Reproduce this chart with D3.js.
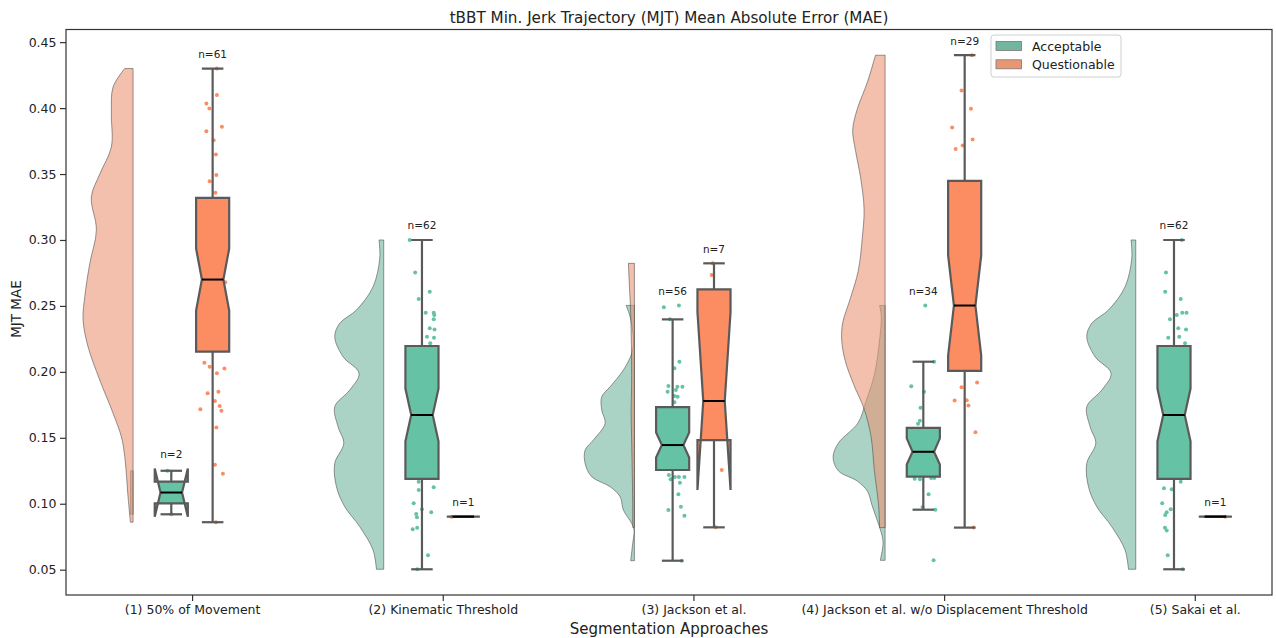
<!DOCTYPE html>
<html><head><meta charset="utf-8">
<script src="https://cdn.jsdelivr.net/npm/d3@7"></script>
<style>
html,body{margin:0;padding:0;background:#fff;}
text{font-family:"DejaVu Sans",sans-serif;fill:#222;}
</style></head>
<body><svg id="chart" width="1276" height="638"></svg>
<script>
// ---------------- DATA ----------------
const categories = ["(1) 50% of Movement", "(2) Kinematic Threshold", "(3) Jackson et al.",
  "(4) Jackson et al. w/o Displacement Threshold", "(5) Sakai et al."];
const groups = ["Acceptable", "Questionable"];
const yTicks = [0.05, 0.10, 0.15, 0.20, 0.25, 0.30, 0.35, 0.40, 0.45];
const yTickLabels = ["0.05", "0.10", "0.15", "0.20", "0.25", "0.30", "0.35", "0.40", "0.45"];

const acceptableN = [2, 62, 56, 34, 62];
const questionableN = [61, 1, 7, 29, 1];

// box stats: [whislo, q1, med, q3, whishi, notchLo, notchHi]
const acceptableBox = [
  [0.092, 0.1003, 0.1085, 0.1167, 0.125, 0.0902, 0.1268],
  [0.0503, 0.1188, 0.1673, 0.2196, 0.300, 0.1473, 0.1873],
  [0.0568, 0.1256, 0.1445, 0.1733, 0.2398, 0.1350, 0.1540],
  [0.0955, 0.1206, 0.1394, 0.1576, 0.2077, 0.1297, 0.1496],
  [0.0503, 0.1188, 0.1673, 0.2196, 0.300, 0.1473, 0.1873]
];
const questionableBox = [
  [0.086, 0.2153, 0.270, 0.332, 0.430, 0.2465, 0.2935],
  [0.0902, 0.0902, 0.0902, 0.0902, 0.0902, 0.0902, 0.0902],
  [0.0821, 0.1483, 0.1779, 0.2625, 0.2823, 0.1104, 0.2454],
  [0.0819, 0.2007, 0.2503, 0.3448, 0.4401, 0.2123, 0.2883],
  [0.0902, 0.0902, 0.0902, 0.0902, 0.0902, 0.0902, 0.0902]
];

// half-violin density profiles: [value, density]
const acceptableDensity = [
  [[0.125,0.25],[0.092,0.25]],
  [[0.300,0.47],[0.286,0.4],[0.2645,1.07],[0.2469,2.73],[0.2368,4.4],[0.2266,4.9],[0.2115,4.07],[0.1989,2.47],[0.1862,3.4],[0.1736,4.9],[0.1584,4.57],[0.1458,4.0],[0.1307,4.9],[0.1129,4.73],[0.0978,3.9],[0.0826,2.4],[0.0649,1.07],[0.0503,0.73]],
  [[0.2504,0.83],[0.2418,0.43],[0.2241,0.1],[0.214,0.27],[0.2014,1.1],[0.1887,2.43],[0.1811,3.27],[0.1711,3.27],[0.161,2.93],[0.1483,4.1],[0.1407,4.93],[0.1306,4.93],[0.1205,4.27],[0.1129,2.43],[0.1053,1.43],[0.0952,1.1],[0.0851,0.27],[0.0801,0.03],[0.07,0.17],[0.0568,0.37]],
  [[0.2503,0.55],[0.2425,0.38],[0.2242,0.55],[0.198,1.07],[0.1772,1.93],[0.1615,2.69],[0.1459,4.68],[0.1354,5.2],[0.125,4.68],[0.1172,2.79],[0.1094,1.76],[0.0989,1.31],[0.0884,0.83],[0.078,0.38],[0.0702,0.2],[0.0571,0.48]],
  [[0.300,0.47],[0.286,0.4],[0.2645,1.07],[0.2469,2.73],[0.2368,4.4],[0.2266,4.9],[0.2115,4.07],[0.1989,2.47],[0.1862,3.4],[0.1736,4.9],[0.1584,4.57],[0.1458,4.0],[0.1307,4.9],[0.1129,4.73],[0.0978,3.9],[0.0826,2.4],[0.0649,1.07],[0.0503,0.73]]
];
const questionableDensity = [
  [[0.430,0.83],[0.416,2.0],[0.396,2.17],[0.3706,2.17],[0.350,3.33],[0.3327,4.17],[0.3075,3.67],[0.2822,4.33],[0.257,4.83],[0.2393,5.0],[0.219,4.5],[0.1938,3.33],[0.1686,2.0],[0.1508,1.17],[0.1357,0.83],[0.1053,0.5],[0.086,0.27]],
  [],
  [[0.2823,0.6],[0.265,0.5],[0.25,0.4],[0.22,0.3],[0.19,0.28],[0.17,0.33],[0.15,0.28],[0.13,0.23],[0.1,0.17],[0.0821,0.17]],
  [[0.4401,0.96],[0.4199,1.76],[0.3991,2.79],[0.3834,3.24],[0.3678,2.96],[0.3468,2.44],[0.3233,2.1],[0.3025,2.27],[0.2764,2.69],[0.2555,3.48],[0.2372,4.24],[0.2242,4.34],[0.2085,3.99],[0.1902,3.13],[0.172,2.1],[0.1511,1.41],[0.125,1.07],[0.0989,0.65],[0.0819,0.55]],
  []
];

// visible raw points: [value, jitter(-1..1)]
const acceptablePoints = [
  [[0.125,-0.3],[0.092,0]],
  [[0.300,-0.98],[0.2754,-0.54],[0.2607,0.62],[0.2552,-0.26],[0.2448,0.3],[0.2448,0.94],[0.2431,0.98],[0.2398,0.94],[0.233,0.62],[0.2322,1.0],[0.2266,0.4],[0.2259,0.96],[0.2216,0.66],[0.1167,-0.26],[0.1125,0.94],[0.1104,-0.26],[0.1003,-0.66],[0.0958,0],[0.0935,0.74],[0.0922,-0.46],[0.0897,-0.4],[0.0818,-0.38],[0.0806,-0.74],[0.0609,0.48],[0.0503,-0.38]],
  [[0.2489,-0.7],[0.2504,0.5],[0.2398,-0.22],[0.2077,0.54],[0.2027,0.14],[0.1892,-0.34],[0.1887,0.38],[0.1887,0.78],[0.1849,-0.4],[0.1862,0.26],[0.1817,0.14],[0.1812,0.4],[0.1769,0.14],[0.1218,-0.3],[0.1185,-0.16],[0.1203,0.5],[0.1203,0.94],[0.1203,0.18],[0.1159,0.58],[0.1072,0.46],[0.0978,0.66],[0.0952,-0.34],[0.0909,0.94],[0.0568,0.72]],
  [[0.2503,0.16],[0.2077,0.86],[0.189,-0.96],[0.185,0.06],[0.1727,-0.22],[0.1607,-0.42],[0.1629,-0.27],[0.119,-0.69],[0.1185,-0.27],[0.1195,0.63],[0.1195,0.88],[0.1072,0.42],[0.0976,-0.06],[0.0955,0.96],[0.0571,0.82]],
  [[0.300,0.62],[0.2754,-0.64],[0.2607,-0.7],[0.2552,0.54],[0.2431,0.22],[0.2448,0.66],[0.2448,1.0],[0.2398,-0.32],[0.233,0.34],[0.2322,0.96],[0.2259,-0.46],[0.2266,0.42],[0.2216,0.88],[0.1167,0.54],[0.1117,-0.8],[0.1109,-0.18],[0.1003,-0.94],[0.0958,-0.26],[0.0935,-0.58],[0.0915,-0.7],[0.0818,-0.72],[0.0798,-0.58],[0.0609,-0.5],[0.0503,0.7]]
];
const questionablePoints = [
  [[0.430,0.34],[0.410,0.34],[0.4035,-0.5],[0.3997,-0.26],[0.3858,0.74],[0.3825,-0.5],[0.3757,0.08],[0.3649,0.26],[0.3492,0.3],[0.3446,-0.24],[0.3358,0.22],[0.268,1.0],[0.2069,-0.66],[0.2039,-0.24],[0.2026,0.94],[0.1989,0.34],[0.185,0.46],[0.1837,-0.4],[0.1779,0.18],[0.1741,0.56],[0.1716,-0.98],[0.1705,0.7],[0.1579,0.3],[0.1296,0.18],[0.1228,0.82],[0.0859,0.26]],
  [[0.0902,-0.93]],
  [[0.2823,-0.1],[0.2734,-0.18],[0.1256,0.62],[0.0821,0.14]],
  [[0.4401,0.58],[0.4134,-0.25],[0.3996,0.5],[0.3852,-1.0],[0.3761,0.63],[0.3716,-0.16],[0.369,-0.72],[0.192,0.99],[0.1883,-0.25],[0.1785,0.16],[0.1782,-0.8],[0.1744,0.3],[0.1542,0.86],[0.0819,0.72]],
  [[0.0902,0.8]]
];

// ---------------- STYLE / LAYOUT ----------------
const W = 1276, H = 638;
const plot = {left: 66, right: 1272, top: 29.5, bottom: 595};
const boxColor = {Acceptable: "#66c2a5", Questionable: "#fc8d62"};
const violinColor = {Acceptable: "rgb(114,182,160)", Questionable: "rgb(233,150,117)"};
const hueOffset = {Acceptable: -0.083, Questionable: 0.082};
const boxW = 0.132, capFrac = 0.65, notchFrac = 0.65;
const violinEdge = -0.2355;
const lineCol = "#5a5a5a";

const svg = d3.select("#chart");
const x = d3.scaleLinear().domain([-0.503, 4.308]).range([plot.left, plot.right]);
const y = d3.scaleLinear().domain([0.0308, 0.4596]).range([plot.bottom, plot.top]);
const dens = d3.scaleLinear().domain([0, 5]).range([0, 0.1994]);
const jit = d3.scaleLinear().domain([-1, 1]).range([-0.05, 0.05]);

const data = groups.map(g => ({
  g,
  n: g === "Acceptable" ? acceptableN : questionableN,
  box: g === "Acceptable" ? acceptableBox : questionableBox,
  dens: g === "Acceptable" ? acceptableDensity : questionableDensity,
  pts: g === "Acceptable" ? acceptablePoints : questionablePoints
}));

// clip
svg.append("defs").append("clipPath").attr("id","clip").append("rect")
  .attr("x", plot.left).attr("y", plot.top).attr("width", plot.right-plot.left).attr("height", plot.bottom-plot.top);
const gPlot = svg.append("g").attr("clip-path","url(#clip)");

// violins
const prof = d3.line().x(d => d[0]).y(d => d[1]).curve(d3.curveCatmullRom.alpha(0.5));
data.forEach(s => {
  categories.forEach((c, i) => {
    const p = s.dens[i];
    if (!p.length) return;
    const ex = x(i + violinEdge);
    const pts = p.map(d => [x(i + violinEdge - dens(d[1])), y(d[0])]);
    const path = `M${ex},${y(p[0][0])}` + prof(pts).replace(/^M/, "L") + `L${ex},${y(p[p.length-1][0])}Z`;
    gPlot.append("path").attr("d", path)
      .attr("fill", violinColor[s.g]).attr("fill-opacity", 0.6)
      .attr("stroke", "rgba(70,70,70,0.55)").attr("stroke-width", 1);
  });
});

// points
data.forEach(s => {
  categories.forEach((c, i) => {
    s.pts[i].forEach(d => {
      gPlot.append("circle")
        .attr("cx", x(i + hueOffset[s.g] + jit(d[1])))
        .attr("cy", y(d[0])).attr("r", 2)
        .attr("fill", boxColor[s.g]);
    });
  });
});

// boxes
data.forEach(s => {
  categories.forEach((c, i) => {
    const [lo, q1, med, q3, hi, clo, chi] = s.box[i];
    const pos = i + hueOffset[s.g];
    const bl = pos - boxW/2, br = pos + boxW/2;
    const nl = pos - boxW*notchFrac/2, nr = pos + boxW*notchFrac/2;
    const cl = pos - boxW*capFrac/2, cr = pos + boxW*capFrac/2;
    const g = gPlot.append("g");
    // whiskers
    g.append("line").attr("x1", x(pos)).attr("x2", x(pos)).attr("y1", y(q1)).attr("y2", y(lo))
      .attr("stroke", lineCol).attr("stroke-width", 2.2);
    g.append("line").attr("x1", x(pos)).attr("x2", x(pos)).attr("y1", y(q3)).attr("y2", y(hi))
      .attr("stroke", lineCol).attr("stroke-width", 2.2);
    // caps
    [lo, hi].forEach(v => g.append("line").attr("x1", x(cl)).attr("x2", x(cr)).attr("y1", y(v)).attr("y2", y(v))
      .attr("stroke", lineCol).attr("stroke-width", 2.2));
    // notched box
    const bx = [bl, br, br, nr, br, br, bl, bl, nl, bl, bl];
    const by = [q1, q1, clo, med, chi, q3, q3, chi, med, clo, q1];
    const line = d3.line().x(d => x(d[0])).y(d => y(d[1]));
    g.append("path").attr("d", line(bx.map((v, k) => [v, by[k]])) + "Z")
      .attr("fill", boxColor[s.g]).attr("stroke", lineCol).attr("stroke-width", 2.2)
      .attr("stroke-linejoin", "miter");
    // median
    g.append("line").attr("x1", x(nl)).attr("x2", x(nr)).attr("y1", y(med)).attr("y2", y(med))
      .attr("stroke", "#000").attr("stroke-width", 2);
    // n label
    const top = Math.max(hi, chi, d3.max(s.pts[i], d => d[0]) || 0);
    svg.append("text").attr("x", x(pos)).attr("y", y(top + 0.011))
      .attr("text-anchor", "middle").attr("dominant-baseline", "central")
      .attr("font-size", "10.5px").text("n=" + s.n[i]);
  });
});

// axes
const yAxis = d3.axisLeft(y).tickValues(yTicks).tickFormat((d, k) => yTickLabels[k]).tickSize(6).tickPadding(3.5);
const gy = svg.append("g").attr("transform", `translate(${plot.left},0)`).call(yAxis);
gy.select(".domain").remove();
gy.selectAll("line").attr("stroke", "#333").attr("stroke-width", 1.2);
gy.selectAll("text").attr("font-size", "12.5px").attr("fill", "#222").style("font-family", '"DejaVu Sans",sans-serif');

const xAxis = d3.axisBottom(x).tickValues(d3.range(categories.length)).tickFormat(i => categories[i]).tickSize(6).tickPadding(4);
const gx = svg.append("g").attr("transform", `translate(0,${plot.bottom})`).call(xAxis);
gx.select(".domain").remove();
gx.selectAll("line").attr("stroke", "#333").attr("stroke-width", 1.2);
gx.selectAll("text").attr("font-size", "12.5px").attr("fill", "#222").style("font-family", '"DejaVu Sans",sans-serif');

svg.append("rect").attr("x", plot.left).attr("y", plot.top)
  .attr("width", plot.right - plot.left).attr("height", plot.bottom - plot.top)
  .attr("fill", "none").attr("stroke", "#333").attr("stroke-width", 1.2);

// titles
svg.append("text").attr("x", (plot.left + plot.right)/2).attr("y", 18)
  .attr("text-anchor", "middle").attr("dominant-baseline", "central")
  .attr("font-size", "15.2px").text("tBBT Min. Jerk Trajectory (MJT) Mean Absolute Error (MAE)");
svg.append("text").attr("x", (plot.left + plot.right)/2).attr("y", 629)
  .attr("text-anchor", "middle").attr("dominant-baseline", "central")
  .attr("font-size", "15px").text("Segmentation Approaches");
svg.append("text").attr("transform", `translate(16,309) rotate(-90)`)
  .attr("text-anchor", "middle").attr("dominant-baseline", "central")
  .attr("font-size", "13.5px").text("MJT MAE");

// legend
const lg = svg.append("g").attr("transform", "translate(991,35)");
lg.append("rect").attr("width", 130).attr("height", 42).attr("rx", 3)
  .attr("fill", "rgba(255,255,255,0.8)").attr("stroke", "#d0d0d0");
groups.forEach((g, k) => {
  lg.append("rect").attr("x", 5).attr("y", 6.5 + k*18.3).attr("width", 25.5).attr("height", 9)
    .attr("fill", violinColor[g]).attr("stroke", "#777").attr("stroke-width", 0.8);
  lg.append("text").attr("x", 41).attr("y", 11.5 + k*18.3).attr("dominant-baseline", "central")
    .attr("font-size", "12.5px").text(g);
});
</script></body></html>
